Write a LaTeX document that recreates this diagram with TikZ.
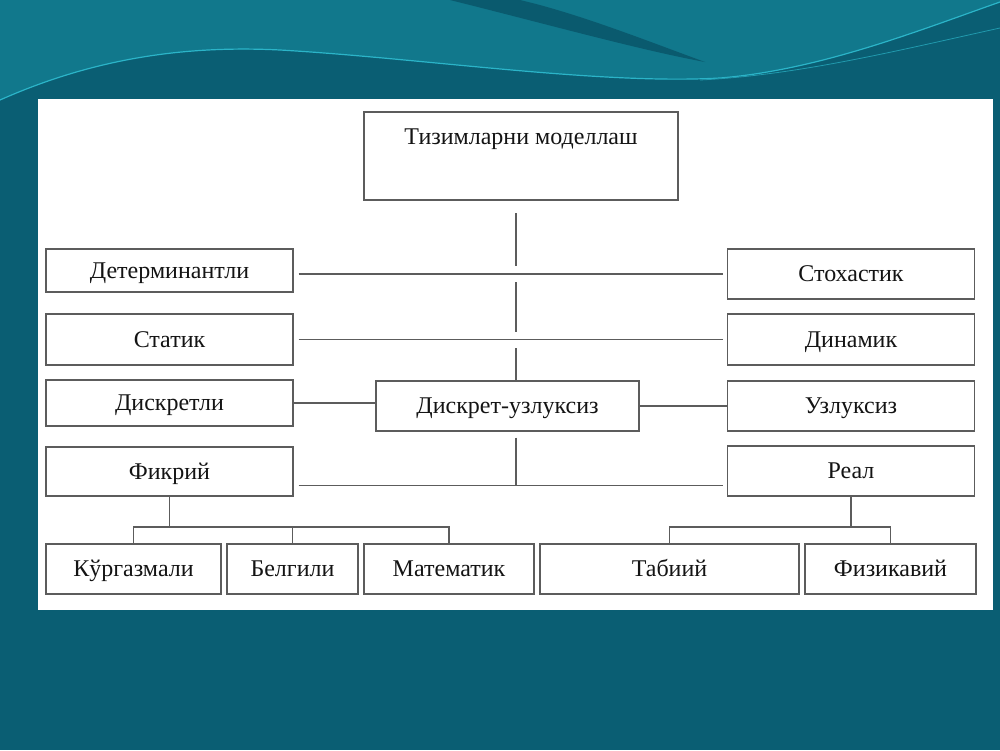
\documentclass[tikz,border=0pt]{standalone}
\usepackage{fontspec}
\setmainfont{Liberation Serif}
\usetikzlibrary{calc}

\definecolor{slideteal}{HTML}{0A5E73}
\definecolor{slidelight}{HTML}{11788C}
\definecolor{slidewave}{HTML}{2BB4C8}
\definecolor{slidedark}{HTML}{0A5A6E}
\definecolor{boxline}{HTML}{5C5C5C}
\definecolor{boxtext}{HTML}{141414}

\newcommand\modeltextstyle{\fontsize{24}{27}\selectfont}
\newcommand\modelcolwidth{247pt}
\newcommand\modelrowheight{50pt}

\tikzset{
  modelbox/.style={draw=boxline, line width=1.4pt, fill=white, text=boxtext,
    font=\modeltextstyle, inner sep=0pt, text height=20pt, text depth=5pt},
  modelline/.style={draw=boxline, line width=1.4pt},
  bridge/.style={preaction={draw=white, line width=16pt}},
  gapped/.style={shorten <=5pt, shorten >=4pt}
}

\begin{document}
\begin{tikzpicture}[x=1pt, y=-1pt]
  \useasboundingbox (0,0) rectangle (1000,750);
  \fill[slideteal] (0,0) rectangle (1000,750);
  \fill[slidelight] (0,0) -- (0,100) .. controls (90,60) and (180,45) .. (280,50)
    .. controls (420,58) and (600,85) .. (720,78) .. controls (820,70) and (920,30) .. (1000,2) -- (1000,0) -- cycle;
  \fill[slidedark] (450,0) .. controls (550,25) and (640,50) .. (705,62)
    .. controls (650,42) and (580,14) .. (520,0) -- cycle;
  \draw[slidewave, line width=1.2pt] (0,100) .. controls (90,60) and (180,45) .. (280,50)
    .. controls (420,58) and (600,85) .. (720,78) .. controls (820,70) and (920,30) .. (1000,2);
  \draw[slidewave!70!slideteal, line width=0.8pt] (700,80) .. controls (800,75) and (900,50) .. (1000,28);
  \fill[white] (38,99) rectangle (993,610);

  \node[modelbox, minimum width=314pt, minimum height=88pt, text height=32pt, text depth=56pt] (tizim) at (521,156) {Тизимларни моделлаш};

  \node[modelbox, minimum width=\modelcolwidth, minimum height=43pt] (determ) at (169.5,270.5) {Детерминантли};
  \node[modelbox, minimum width=\modelcolwidth, minimum height=51pt] (static) at (169.5,339.5) {Статик};
  \node[modelbox, minimum width=\modelcolwidth, minimum height=46pt] (diskr) at (169.5,403) {Дискретли};
  \node[modelbox, minimum width=\modelcolwidth, minimum height=49pt] (fikr) at (169.5,471.5) {Фикрий};

  \node[modelbox, minimum width=\modelcolwidth, minimum height=\modelrowheight] (stox) at (851,274) {Стохастик};
  \node[modelbox, minimum width=\modelcolwidth, minimum height=51pt] (dinam) at (851,339.5) {Динамик};
  \node[modelbox, minimum width=\modelcolwidth, minimum height=\modelrowheight] (uzluk) at (851,406) {Узлуксиз};
  \node[modelbox, minimum width=\modelcolwidth, minimum height=\modelrowheight] (real) at (851,471) {Реал};

  \node[modelbox, minimum width=263pt, minimum height=\modelrowheight] (diskuz) at (507.5,406) {Дискрет-узлуксиз};

  \node[modelbox, minimum width=175pt, minimum height=\modelrowheight] (kurg) at (133.5,569) {Кўргазмали};
  \node[modelbox, minimum width=131pt, minimum height=\modelrowheight] (belg) at (292.5,569) {Белгили};
  \node[modelbox, minimum width=170pt, minimum height=\modelrowheight] (matem) at (449,569) {Математик};
  \node[modelbox, minimum width=259pt, minimum height=\modelrowheight] (tabiy) at (669.5,569) {Табиий};
  \node[modelbox, minimum width=171pt, minimum height=\modelrowheight] (fizik) at (890.5,569) {Физикавий};

  \coordinate (spinetop) at (516,213);
  \coordinate (treebar) at (0,527);
  \coordinate (fikline) at ([yshift=11pt]fikr.south east);

  \draw[modelline] (spinetop) -- (spinetop |- diskuz.north);
  \draw[modelline, bridge, gapped] (determ.east |- stox.west) -- (stox.west);
  \draw[modelline, bridge, gapped] (static.east) -- (dinam.west);
  \draw[modelline] (diskr.east) -- (diskr.east -| diskuz.west);
  \draw[modelline] (diskuz.east) -- (uzluk.west);
  \draw[modelline, gapped] (fikline) -- (fikline -| real.west);
  \draw[modelline, shorten <=6pt] (spinetop |- diskuz.south) -- (spinetop |- fikline);

  \draw[modelline] (fikr.south) -- (fikr.south |- treebar);
  \draw[modelline] (kurg.north) |- (matem.north |- treebar) -- (matem.north);
  \draw[modelline] (belg.north) -- (belg.north |- treebar);
  \draw[modelline] (real.south) -- (real.south |- treebar);
  \draw[modelline] (tabiy.north) |- (fizik.north |- treebar) -- (fizik.north);
\end{tikzpicture}
\end{document}
